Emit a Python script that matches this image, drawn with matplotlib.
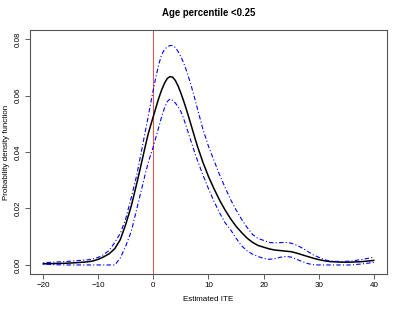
import matplotlib
matplotlib.use("Agg")
import matplotlib.pyplot as plt

plt.rcParams['font.family'] = ['Liberation Sans', 'DejaVu Sans']

# estimated ITE grid and density curves
ite = [-20, -18, -16, -14, -12, -11, -10, -9, -8, -7, -6, -5, -4,
       -3, -2.5, -2, -1.5, -1, -0.5, 0, 0.5, 1, 1.5, 2, 2.5, 3, 3.5, 4,
       4.5, 5, 5.5, 6, 6.5, 7, 7.5, 8,
       9, 10, 11, 12, 13, 14, 15, 16, 17, 18, 19, 20, 21, 22, 23, 24,
       25, 26, 27, 28, 29, 30, 31, 32,
       34, 36, 38, 40]

dens_mean = [0.0004, 0.0005, 0.0006, 0.0008, 0.0011, 0.0014, 0.0020, 0.0029,
             0.0040, 0.0058, 0.0090, 0.0145, 0.0210,
             0.0290, 0.0332, 0.0375, 0.0418, 0.0460, 0.0494, 0.0527, 0.0560,
             0.0592, 0.0620, 0.0643, 0.0660, 0.0667, 0.0665, 0.0653, 0.0633,
             0.0608, 0.0580, 0.0550, 0.0518, 0.0485, 0.0452, 0.0420,
             0.0363, 0.0313, 0.0270, 0.0230, 0.0195, 0.0164, 0.0137, 0.0115,
             0.0095, 0.0080, 0.0069, 0.0063, 0.0057, 0.0053, 0.0051, 0.0049,
             0.0047, 0.0042, 0.0036, 0.0030, 0.0024, 0.0019, 0.0015, 0.0012,
             0.0010, 0.0010, 0.0012, 0.0016]

dens_upper = [0.0008, 0.0010, 0.0012, 0.0015, 0.0018, 0.0021, 0.0027, 0.0037,
              0.0052, 0.0080, 0.0112, 0.0165, 0.0240,
              0.0320, 0.0370, 0.0420, 0.0470, 0.0520, 0.0572, 0.0622, 0.0670,
              0.0712, 0.0745, 0.0763, 0.0772, 0.0777, 0.0777, 0.0770, 0.0755,
              0.0737, 0.0715, 0.0688, 0.0658, 0.0625, 0.0590, 0.0553,
              0.0480, 0.0420, 0.0370, 0.0320, 0.0275, 0.0232, 0.0195, 0.0162,
              0.0133, 0.0108, 0.0094, 0.0087, 0.0080, 0.0078, 0.0079, 0.0080,
              0.0077, 0.0070, 0.0060, 0.0048, 0.0036, 0.0027, 0.0019, 0.0014,
              0.0012, 0.0014, 0.0020, 0.0027]

dens_lower = [0.0003, 0.0001, 0.0000, 0.0000, 0.0000, 0.0000, 0.0000, 0.0000,
              0.0000, 0.0000, 0.0025, 0.0068, 0.0120,
              0.0200, 0.0240, 0.0280, 0.0320, 0.0358, 0.0390, 0.0420, 0.0455,
              0.0490, 0.0525, 0.0555, 0.0578, 0.0588, 0.0583, 0.0573, 0.0560,
              0.0543, 0.0518, 0.0488, 0.0458, 0.0428, 0.0398, 0.0370,
              0.0318, 0.0270, 0.0225, 0.0185, 0.0150, 0.0125, 0.0095, 0.0068,
              0.0050, 0.0038, 0.0030, 0.0023, 0.0020, 0.0022, 0.0027, 0.0030,
              0.0028, 0.0020, 0.0012, 0.0005, 0.0001, 0.0000, 0.0000, 0.0000,
              0.0000, 0.0000, 0.0004, 0.0009]

xticks = [-20, -10, 0, 10, 20, 30, 40]
yticks = [0.00, 0.02, 0.04, 0.06, 0.08]

fig = plt.figure(figsize=(4.03, 3.12), dpi=100)
ax = fig.add_axes([0.0744, 0.1218, 0.8859, 0.7820])

ax.axvline(0, color='#f05050', lw=0.75)
ax.plot(ite, dens_mean, color='black', lw=1.1)
ax.plot(ite, dens_upper, color='blue', lw=0.8, dashes=(1, 2, 4, 2))
ax.plot(ite, dens_lower, color='blue', lw=0.8, dashes=(1, 2, 4, 2))

ax.set_xlim(-22.4, 42.4)
ax.set_ylim(-0.0032, 0.0832)
ax.set_xticks(xticks)
ax.set_yticks(yticks)
ax.set_yticklabels([f'{v:.2f}' for v in yticks], rotation=90, va='center')
ax.tick_params(labelsize=5.8, length=3.5, width=0.6, color='#444444', pad=2.5)

for sp in ax.spines.values():
    sp.set_color('#555555')
    sp.set_linewidth(0.8)

ax.set_xlabel('Estimated ITE', fontsize=5.8, labelpad=5)
ax.set_ylabel('Probability density function', fontsize=5.8, labelpad=3)
ax.set_title('Age percentile <0.25', fontsize=6.9, fontweight='bold', pad=10)

fig.savefig('out.png', dpi=100)
